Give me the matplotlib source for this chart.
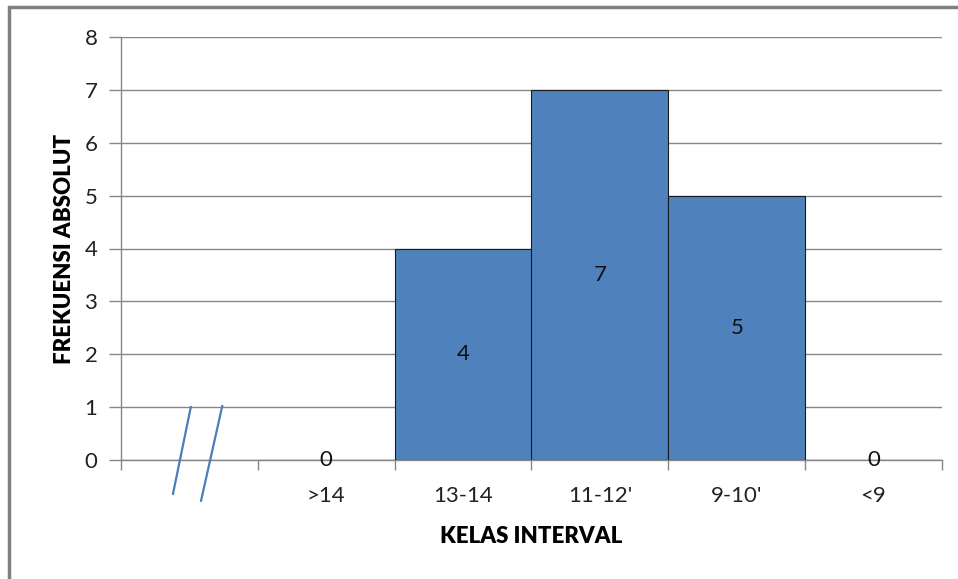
import matplotlib.pyplot as plt
import numpy as np
from matplotlib.patches import Rectangle

# data
categories = ['', '>14', '13-14', "11-12'", "9-10'", '<9']
freq = [None, 0, 4, 7, 5, 0]

plt.rcParams['font.family'] = ['Lato', 'DejaVu Sans']

fig = plt.figure(figsize=(9.58, 5.79), dpi=100)
ax = fig.add_axes([121 / 958, 1 - 460 / 579, (942 - 121) / 958, (460 - 37) / 579])

grey = '#868686'
x = np.arange(len(categories))
vals = [0 if v is None else v for v in freq]
bars = ax.bar(x[1:], vals[1:], width=1.0, color='#4F81BD', edgecolor='#1a1a1a', linewidth=0.8, zorder=3)

# value labels: in the middle of the bar, zeros sit on the axis
for xi, v in zip(x[1:], vals[1:]):
    ax.text(xi, v / 2, str(v), ha='center', va='center', fontsize=16, color='#111111', zorder=4)

ax.set_xlim(-0.5, len(categories) - 0.5)
ax.set_ylim(0, 8)
ax.set_yticks(range(0, 9))
ax.yaxis.grid(True, color=grey, linewidth=1)
ax.set_axisbelow(True)

ax.set_xticks(x)
ax.set_xticklabels(categories)
ax.set_xticks(np.arange(-0.5, len(categories)), minor=True)
ax.tick_params(axis='x', which='major', length=0, pad=19, labelsize=16, labelcolor='#222222')
ax.tick_params(axis='x', which='minor', length=7, color=grey, width=1)
ax.tick_params(axis='y', length=9, color=grey, width=1, pad=8, labelsize=16, labelcolor='#222222')

for s in ['top', 'right']:
    ax.spines[s].set_visible(False)
for s in ['left', 'bottom']:
    ax.spines[s].set_color(grey)
    ax.spines[s].set_linewidth(1)

ax.set_xlabel('KELAS INTERVAL', fontsize=16, fontweight='heavy', labelpad=14)
ax.set_ylabel('FREKUENSI ABSOLUT', fontsize=16, fontweight='heavy', labelpad=7)

# axis break marks under the empty first category
ax.plot([-0.12, 0.01], [-0.64, 1.0], color='#4a7ebb', linewidth=1.6, clip_on=False, zorder=5)
ax.plot([0.085, 0.24], [-0.77, 1.02], color='#4a7ebb', linewidth=1.6, clip_on=False, zorder=5)

# outer chart frame
fig.patches.append(Rectangle((9 / 958, -0.1), 1.2, 1 - 7 / 579 + 0.1, transform=fig.transFigure,
                             fill=False, edgecolor='#808080', linewidth=2.5))

fig.savefig('out.png', dpi=100)
